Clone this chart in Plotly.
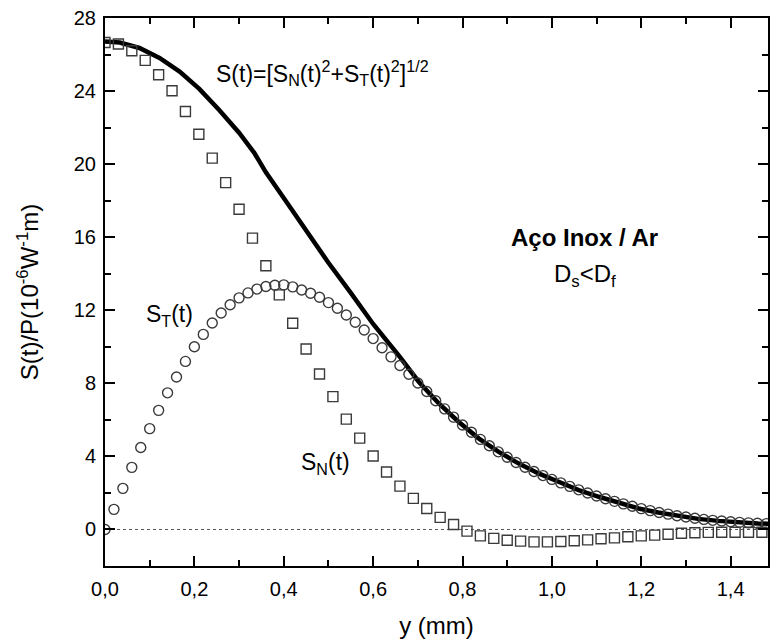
import plotly.graph_objects as go

# ---- data ----
# S_N(t): open squares, step 0.03 mm
sn_x = [round(0.03 * i, 2) for i in range(50)]
sn_y = [26.66, 26.58, 26.21, 25.68, 24.89, 24.02, 22.88, 21.64, 20.33, 18.99,
        17.53, 15.95, 14.44, 12.84, 11.29, 9.88, 8.51, 7.27, 6.04, 5.00,
        4.02, 3.15, 2.37, 1.70, 1.15, 0.66, 0.27, -0.09, -0.35, -0.49,
        -0.59, -0.64, -0.68, -0.68, -0.66, -0.62, -0.57, -0.51, -0.46, -0.40,
        -0.35, -0.31, -0.26, -0.21, -0.18, -0.16, -0.15, -0.15, -0.15, -0.15]

# S_T(t): open circles, step 0.02 mm
st_x = [round(0.02 * i, 2) for i in range(75)]
st_y = [0.00, 1.10, 2.25, 3.40, 4.49, 5.52, 6.52, 7.48, 8.35, 9.20,
        10.00, 10.68, 11.30, 11.85, 12.30, 12.68, 12.95, 13.16, 13.30, 13.37,
        13.39, 13.28, 13.11, 12.93, 12.71, 12.42, 12.11, 11.74, 11.34, 10.92,
        10.45, 9.95, 9.45, 8.98, 8.50, 8.02, 7.55, 7.05, 6.60, 6.15,
        5.72, 5.32, 4.93, 4.58, 4.25, 3.95, 3.67, 3.41, 3.17, 2.95,
        2.74, 2.55, 2.36, 2.17, 2.00, 1.83, 1.68, 1.54, 1.40, 1.27,
        1.14, 1.03, 0.93, 0.84, 0.75, 0.68, 0.61, 0.55, 0.50, 0.46,
        0.42, 0.39, 0.36, 0.34, 0.32]

# S(t) = [S_N^2 + S_T^2]^(1/2): thick solid line
s_x = [0.0, 0.033, 0.077, 0.122, 0.167, 0.211, 0.256, 0.30, 0.334, 0.36,
       0.40, 0.45, 0.50, 0.55, 0.60, 0.658, 0.702, 0.747, 0.791, 0.836,
       0.881, 0.925, 0.97, 1.015, 1.06, 1.105, 1.149, 1.194, 1.238, 1.283,
       1.327, 1.372, 1.417, 1.461, 1.50]
s_y = [26.72, 26.66, 26.36, 25.81, 25.07, 24.12, 22.95, 21.72, 20.62, 19.55,
       18.15, 16.35, 14.60, 12.95, 11.25, 9.50, 8.09, 6.90, 5.90, 4.99,
       4.25, 3.62, 3.07, 2.61, 2.15, 1.79, 1.48, 1.15, 0.93, 0.73,
       0.58, 0.47, 0.38, 0.33, 0.30]

x_range = [0, 1.4836]
y_range = [-2, 28]

FONT = "Liberation Sans, Arial, sans-serif"
MK = "#3a3a3a"

fig = go.Figure()
fig.add_trace(go.Scatter(x=s_x, y=s_y, mode="lines",
                         line=dict(color="black", width=4.5), showlegend=False))
fig.add_trace(go.Scatter(x=sn_x, y=sn_y, mode="markers",
                         marker=dict(symbol="square-open", size=10, color=MK,
                                     line=dict(width=1.4, color=MK)),
                         showlegend=False))
fig.add_trace(go.Scatter(x=st_x, y=st_y, mode="markers",
                         marker=dict(symbol="circle-open", size=10, color=MK,
                                     line=dict(width=1.4, color=MK)),
                         showlegend=False))

fig.add_shape(type="line", xref="x domain", yref="y", x0=0, x1=1, y0=0, y1=0,
              line=dict(color="#555555", width=1, dash="dot"), layer="below")

ann_font = dict(family=FONT, size=23, color="black")
fig.add_annotation(x=0.245, y=25.0, xref="x", yref="y", xanchor="left", yanchor="middle",
                   text="S(t)=[S<sub>N</sub>(t)<sup>2</sup>+S<sub>T</sub>(t)<sup>2</sup>]<sup>1/2</sup>",
                   showarrow=False, font=ann_font)
fig.add_annotation(x=0.144, y=11.7, xref="x", yref="y", xanchor="center", yanchor="middle",
                   text="S<sub>T</sub>(t)", showarrow=False, font=ann_font)
fig.add_annotation(x=0.494, y=3.6, xref="x", yref="y", xanchor="center", yanchor="middle",
                   text="S<sub>N</sub>(t)", showarrow=False, font=ann_font)
fig.add_annotation(x=1.074, y=16.0, xref="x", yref="y", xanchor="center", yanchor="middle",
                   text="<b>Aço Inox / Ar</b>", showarrow=False,
                   font=dict(family=FONT, size=24, color="black"))
fig.add_annotation(x=1.073, y=13.9, xref="x", yref="y", xanchor="center", yanchor="middle",
                   text="D<sub>s</sub>&lt;D<sub>f</sub>", showarrow=False,
                   font=dict(family=FONT, size=24, color="black"))

axis_common = dict(showline=True, linecolor="black", linewidth=2, mirror="ticks",
                   ticks="inside", tickcolor="black", tickwidth=2, ticklen=10,
                   showgrid=False, zeroline=False,
                   tickfont=dict(family=FONT, size=20, color="black"))

fig.update_xaxes(range=x_range, dtick=0.2, tick0=0, tickformat=".1f",
                 ticklabelstandoff=4,
                 minor=dict(dtick=0.1, ticks="inside", ticklen=6, tickwidth=2, tickcolor="black"),
                 title=dict(text="y (mm)", font=dict(family=FONT, size=24, color="black"), standoff=18),
                 **axis_common)
fig.update_yaxes(range=y_range, dtick=4, tick0=0,
                 ticklabelstandoff=3,
                 minor=dict(dtick=2, ticks="inside", ticklen=6, tickwidth=2, tickcolor="black"),
                 title=dict(text="S(t)/P(10<sup>-6</sup>W<sup>-1</sup>m)",
                            font=dict(family=FONT, size=24, color="black"), standoff=28),
                 **axis_common)

fig.update_layout(width=770, height=642, separators=",.",
                  margin=dict(l=105, r=0, t=18, b=76),
                  paper_bgcolor="white", plot_bgcolor="white",
                  font=dict(family=FONT, color="black"))

fig.write_html("out.html")
